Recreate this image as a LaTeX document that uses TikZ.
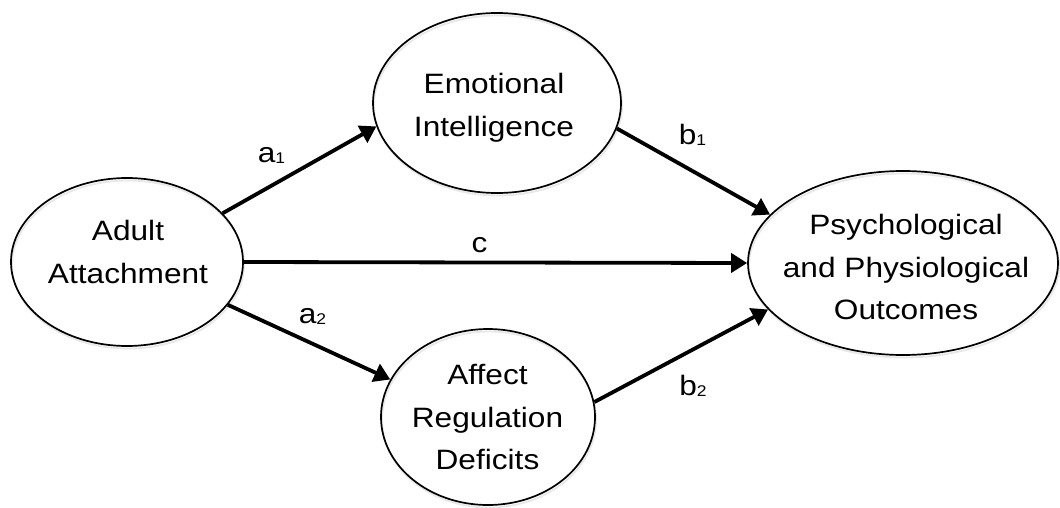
\documentclass[tikz,border=0pt]{standalone}
\usepackage{fontspec}
\setmainfont{Liberation Sans}[FakeStretch=1.13]
\usetikzlibrary{arrows.meta,shapes.geometric,shadows}
\newcommand\subdig[1]{\raisebox{-1pt}{\fontsize{15.5}{15.5}\selectfont #1}}
\begin{document}
\begin{tikzpicture}[x=1pt,y=-1pt,
  var/.style={ellipse, draw=black, line width=1.7pt, inner sep=0pt,
    drop shadow={shadow xshift=1pt, shadow yshift=-2.5pt, draw=black!18, fill=none, line width=1.8pt}},
  txt/.style={align=center, inner sep=0pt, font=\fontsize{28}{42.5}\selectfont},
  arr/.style={line width=3.8pt, -{Triangle[length=16pt,width=19pt]}},
  lab/.style={anchor=base, inner sep=0pt, font=\fontsize{28}{28}\selectfont}]
\useasboundingbox (0,0) rectangle (1060,508);
% ellipses
\node[var, minimum width=232pt, minimum height=168pt] (adult) at (127,262) {};
\node[var, minimum width=248pt, minimum height=180pt] (ei) at (497,103) {};
\node[var, minimum width=214pt, minimum height=176pt] (ard) at (488,417) {};
\node[var, minimum width=310pt, minimum height=184pt] (out) at (903,263) {};
% texts
\node[txt] (adultT) at (128,252) {Adult\\Attachment};
\node[txt] (eiT) at (494,108) {Emotional\\Intelligence};
\node[txt] (ardT) at (487.5,417.5) {Affect\\Regulation\\Deficits};
\node[txt] (outT) at (906,267) {Psychological\\and Physiological\\Outcomes};
% connectors
\draw[arr] (adult.27.3) -- (ei.191.3);
\draw[arr] (ei.348.2) -- (out.160.7);
\draw[arr] (adult.0) -- (out.180);
\draw[arr] (adult.337.9) -- (ard.159.3);
\draw[arr] (ard.8) -- (out.199.5);
% labels
\node[lab] (la1) at (271.5,163) {a\subdig{1}};
\node[lab] (lb1) at (692.5,145) {b\subdig{1}};
\node[lab] (lc) at (479.5,252) {c};
\node[lab] (la2) at (312.5,323) {a\subdig{2}};
\node[lab] (lb2) at (693,395) {b\subdig{2}};
\end{tikzpicture}
\end{document}
